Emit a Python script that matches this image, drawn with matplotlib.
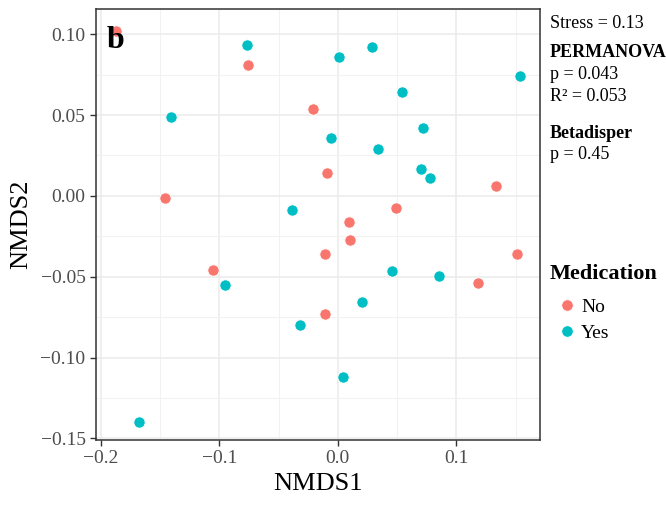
import matplotlib
matplotlib.use('Agg')
import matplotlib.pyplot as plt
import numpy as np

# NMDS scores
no_x = [-0.187, -0.076, -0.021, -0.146, -0.009, 0.1335, 0.049, 0.009,
        -0.105, 0.0106, -0.011, 0.151, 0.118, -0.011]
no_y = [0.102, 0.081, 0.054, -0.001, 0.014, 0.006, -0.0075, -0.016,
        -0.046, -0.027, -0.036, -0.036, -0.054, -0.073]
yes_x = [-0.077, -0.141, -0.039, 0.001, 0.029, 0.154, 0.054, 0.0716,
         -0.0055, 0.034, 0.0705, 0.078, -0.0955, -0.032, -0.1675, 0.0455,
         0.085, 0.020, 0.0046]
yes_y = [0.0935, 0.049, -0.009, 0.086, 0.092, 0.074, 0.064, 0.042,
         0.0356, 0.029, 0.0168, 0.011, -0.055, -0.080, -0.1396, -0.0466,
         -0.0495, -0.0656, -0.112]
groups = ['No', 'Yes']
colors = ['#F8766D', '#00BFC4']

x_ticks = [-0.2, -0.1, 0.0, 0.1]
y_ticks = [-0.15, -0.10, -0.05, 0.00, 0.05, 0.10]

plt.rcParams['font.family'] = ['Liberation Serif', 'DejaVu Serif']

fig = plt.figure(figsize=(6.66, 5.08), dpi=100)
ax = fig.add_axes([96 / 666, 1 - 440 / 508, 444 / 666, 431 / 508])

ax.scatter(no_x, no_y, s=66, c=colors[0], edgecolors='white', linewidths=0.6, zorder=3)
ax.scatter(yes_x, yes_y, s=66, c=colors[1], edgecolors='white', linewidths=0.6, zorder=3)

ax.set_xlim(-0.2041, 0.1706)
ax.set_ylim(-0.151, 0.1156)
ax.set_xticks(x_ticks)
ax.set_xticklabels(['\u22120.2', '\u22120.1', '0.0', '0.1'])
ax.set_yticks(y_ticks)
ax.set_yticklabels(['\u22120.15', '\u22120.10', '\u22120.05', '0.00', '0.05', '0.10'])
ax.set_xticks([-0.15, -0.05, 0.05, 0.15], minor=True)
ax.set_yticks([-0.125, -0.075, -0.025, 0.025, 0.075], minor=True)
ax.grid(which='major', color='#ebebeb', linewidth=1.1, zorder=0)
ax.grid(which='minor', color='#f2f2f2', linewidth=0.8, zorder=0)
ax.set_axisbelow(True)
ax.tick_params(which='major', direction='out', length=4, width=1, color='#333333',
               labelsize=14, labelcolor='#4d4d4d')
ax.tick_params(which='minor', length=0)
for sp in ax.spines.values():
    sp.set_color('#333333')
    sp.set_linewidth(1.1)

ax.set_xlabel('NMDS1', fontsize=19, labelpad=4)
ax.set_ylabel('NMDS2', fontsize=19, labelpad=6)

ax.text(0.025, 0.96, 'b', transform=ax.transAxes, fontsize=23, fontweight='bold',
        va='top', ha='left', zorder=5)

# stats annotations
tx = 550 / 666
def fy(py):
    return 1 - py / 508
fig.text(tx, fy(28), 'Stress = 0.13', fontsize=13, va='baseline')
fig.text(tx, fy(57), 'PERMANOVA', fontsize=13, fontweight='bold', va='baseline')
fig.text(tx, fy(79), 'p = 0.043', fontsize=13, va='baseline')
fig.text(tx, fy(101), 'R\u00b2 = 0.053', fontsize=13, va='baseline')
fig.text(tx, fy(138), 'Betadisper', fontsize=13, fontweight='bold', va='baseline')
fig.text(tx, fy(159), 'p = 0.45', fontsize=13, va='baseline')

# legend
fig.text(tx, fy(279), 'Medication', fontsize=16, fontweight='bold', va='baseline')
for i, (g, c) in enumerate(zip(groups, colors)):
    yy = 305 + i * 26
    fig.add_artist(plt.Line2D([566.7 / 666], [fy(yy)], marker='o', markersize=8.3,
                              markerfacecolor=c, markeredgecolor='white',
                              markeredgewidth=0.6, linestyle='none'))
    fig.text(581 / 666, fy(yy + 7), g, fontsize=14, va='baseline')

fig.savefig('out.png', dpi=100)
